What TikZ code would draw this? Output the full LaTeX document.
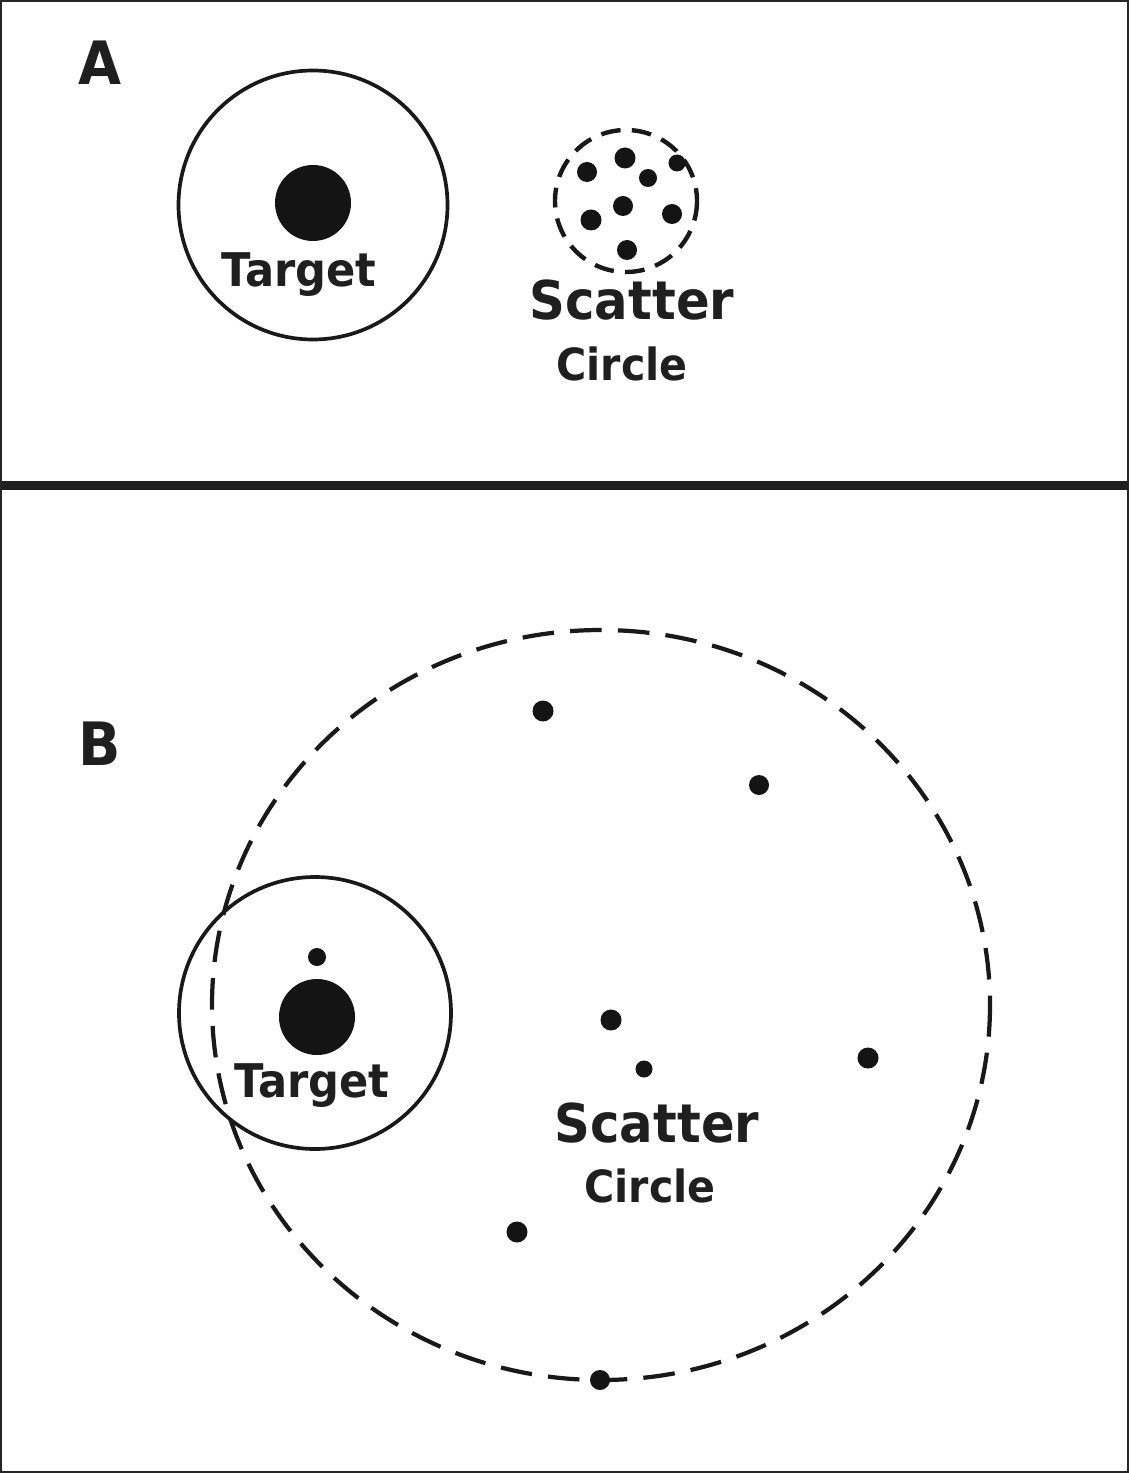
\documentclass[tikz,border=0pt]{standalone}
\usepackage{fontspec}
\newfontfamily\labfont[FakeStretch=0.93]{DejaVu Sans}
\begin{document}
\begin{tikzpicture}[x=0.01cm,y=-0.01cm,
  lab/.style={inner sep=0pt, anchor=base, text=black!88},
  ring/.style={line width=1.05pt, draw=black!90},
  dashA/.style={line width=1.25pt, draw=black!90, dash pattern=on 5.6pt off 3.2pt},
  dashB/.style={line width=1.2pt, draw=black!90, dash pattern=on 9pt off 4.6pt},
  dot/.style={fill=black!92}]
\useasboundingbox (0,0) rectangle (1129,1473);
\fill[white] (0,0) rectangle (1129,1473);
% frame and divider
\draw[line width=0.6pt, black!85] (1,1) rectangle (1128,1472);
\draw[line width=2.4pt, black!88] (1,485.5) -- (1128,485.5);

% ---------- Panel A ----------
\node[lab, font=\labfont\bfseries\fontsize{17pt}{17pt}\selectfont] (la) at (100,85) {A};
\draw[ring] (313,205) circle [radius=134.5];
\fill[dot] (313,203) circle [radius=38];
\node[lab, font=\labfont\bfseries\fontsize{13.2pt}{13.2pt}\selectfont] (ta) at (299,287) {Target};

\draw[dashA] (626,201) circle [radius=71];
\foreach \p/\r in {(625,158)/10.5,(587,172)/10,(648,178)/9,(677,163)/8.5,(623,206)/10,(591,220)/10.5,(672,214)/10,(627,250)/10}
  \fill[dot] \p circle [radius=\r];
\node[lab, font=\labfont\bfseries\fontsize{15.2pt}{15.2pt}\selectfont] (sa) at (632,320) {Scatter};
\node[lab, font=\labfont\bfseries\fontsize{12.6pt}{12.6pt}\selectfont] (ca) at (622,380) {Circle};

% ---------- Panel B ----------
\node[lab, font=\labfont\bfseries\fontsize{17pt}{17pt}\selectfont] (lb) at (100,765) {B};
\draw[dashB] (601,1005) ellipse [x radius=389, y radius=375];
\draw[ring] (315,1013) circle [radius=136];
\fill[dot] (317,1017) circle [radius=38];
\fill[dot] (317,957) circle [radius=9];
\node[lab, font=\labfont\bfseries\fontsize{13.2pt}{13.2pt}\selectfont] (tb) at (312,1097) {Target};

\foreach \p/\r in {(543,711)/10.5,(759,785)/10,(611,1020)/10.5,(644,1069)/8.5,(868,1058)/10.5,(517,1232)/10.5,(600,1380)/10}
  \fill[dot] \p circle [radius=\r];
\node[lab, font=\labfont\bfseries\fontsize{15.2pt}{15.2pt}\selectfont] (sb) at (657,1142) {Scatter};
\node[lab, font=\labfont\bfseries\fontsize{12.6pt}{12.6pt}\selectfont] (cb) at (650,1202) {Circle};
\end{tikzpicture}
\end{document}
